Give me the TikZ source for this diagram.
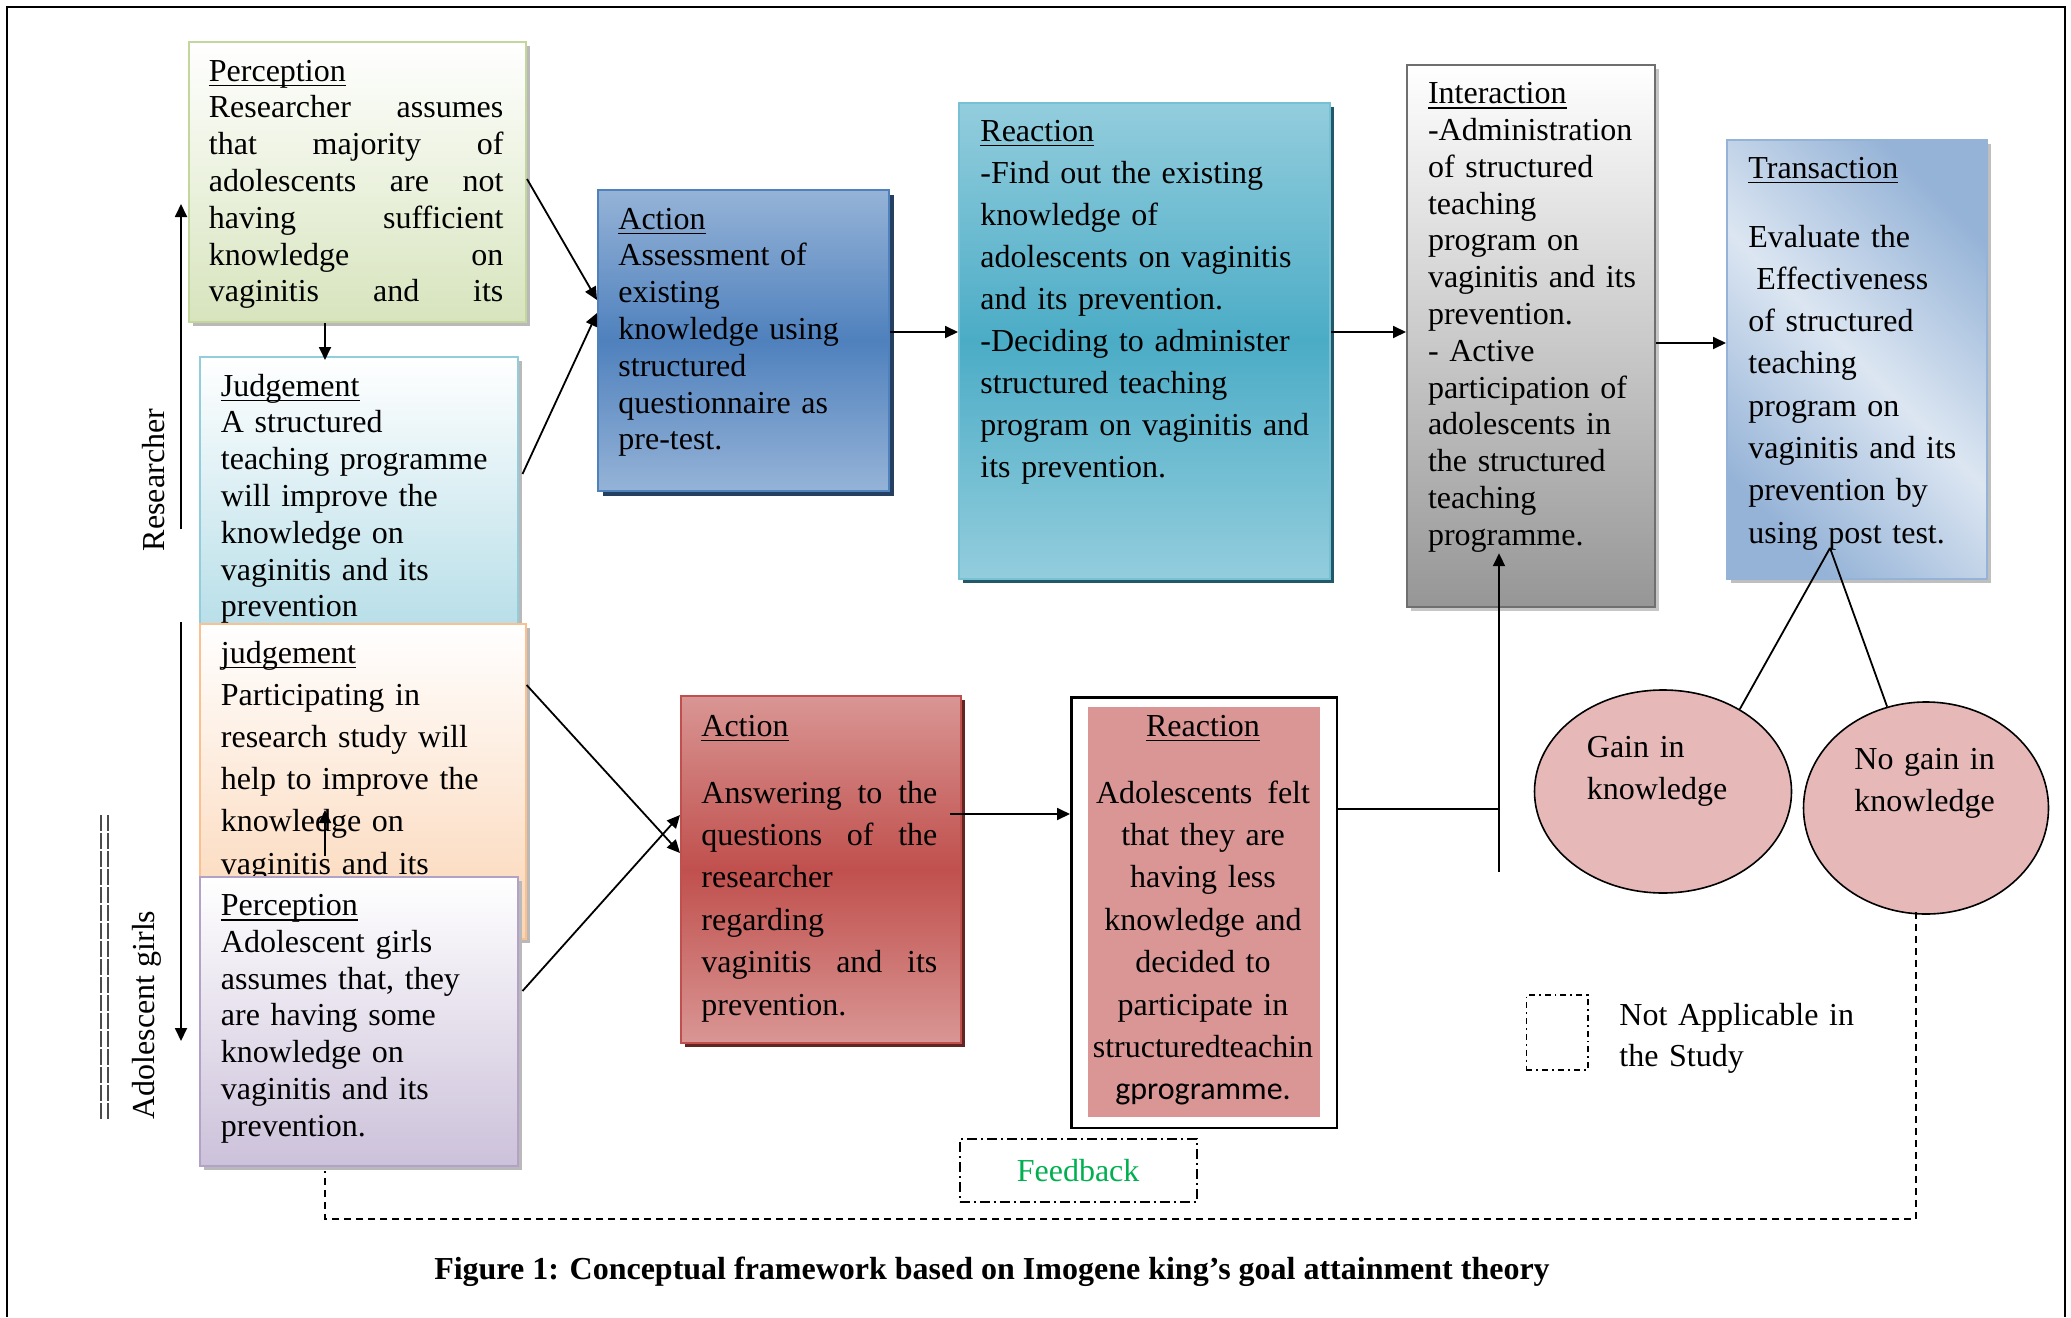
\documentclass[tikz,border=0pt]{standalone}
\usepackage{fontspec}
\setmainfont{Liberation Serif}
\newfontfamily\calib{Carlito}
\usetikzlibrary{calc,arrows.meta,shadows,shapes.geometric}
\definecolor{grnB}{HTML}{C3D69B}
\definecolor{grnF}{HTML}{D7E4BD}
\definecolor{bluB}{HTML}{92CDDC}
\definecolor{bluF}{HTML}{B7DEE8}
\definecolor{orgB}{HTML}{FAC090}
\definecolor{orgF}{HTML}{FBD5B5}
\definecolor{purB}{HTML}{B3A2C7}
\definecolor{purF}{HTML}{CCC1DA}
\definecolor{actL}{HTML}{95B3D7}
\definecolor{actM}{HTML}{4F81BD}
\definecolor{actS}{HTML}{243F60}
\definecolor{teaL}{HTML}{93CDDD}
\definecolor{teaM}{HTML}{4BACC6}
\definecolor{teaS}{HTML}{215968}
\definecolor{gryB}{HTML}{6F6F6F}
\definecolor{gryF}{HTML}{969696}
\definecolor{trnL}{HTML}{DCE6F2}
\definecolor{trnD}{HTML}{95B3D7}
\definecolor{redL}{HTML}{D99694}
\definecolor{redM}{HTML}{C0504D}
\definecolor{redS}{HTML}{632523}
\definecolor{ellF}{HTML}{E6B9B8}
\definecolor{fbG}{HTML}{00B050}
\newsavebox\ulbox
\newcommand{\uln}[1]{\sbox\ulbox{#1}\rlap{\rule[-2.6pt]{\wd\ulbox}{0.8pt}}\usebox\ulbox}
\begin{document}
\begin{tikzpicture}[x=0.5pt,y=-0.5pt,
  box/.style={rectangle, inner sep=0pt, anchor=north west, line width=1pt},
  shd/.style={drop shadow={shadow xshift=2pt, shadow yshift=-2pt, opacity=1, fill=#1}},
  txt/.style={anchor=base west, inner sep=0pt, align=left, text width=#1},
  lsA/.style={font=\fontsize{16pt}{18.4pt}\selectfont},
  lsB/.style={font=\fontsize{16pt}{21.1pt}\selectfont},
  arr/.style={line width=0.9pt, -{Triangle[length=6.5pt,width=6pt]}},
  conn/.style={line width=0.9pt},
  fbline/.style={line width=0.9pt, dash pattern=on 3.5pt off 2.5pt},
  dashdot/.style={draw=black, line width=1pt, dash pattern=on 5pt off 2pt on 1pt off 2pt},
  dl/.style={line width=0.7pt, black!70, dash pattern=on 7.8pt off 1.2pt},
  ell/.style={ellipse, draw, fill=ellF, line width=0.8pt, inner sep=0pt}
]
\useasboundingbox (0,0) rectangle (2071,1317);
% frame
\draw[line width=1pt] (7,1317) -- (7,7) -- (2065,7) -- (2065,1317);

% ---------- Researcher side ----------
\node[box, draw=grnB, top color=white, bottom color=grnF, shd=gray!55,
      minimum width=168.5pt, minimum height=140pt] (percR) at (188,41) {};
\node[txt=147.25pt, lsA] (percRt) at (208.5,81) {\uln{Perception}\\
Researcher\hfill assumes\\
that\hfill majority\hfill of\\
adolescents\hfill are\hfill not\\
having\hfill sufficient\\
knowledge\hfill on\\
vaginitis\hfill and\hfill its};

\node[box, draw=bluB, top color=white, bottom color=bluF, shd=gray!55,
      minimum width=158.75pt, minimum height=137pt] (judgR) at (199,356) {};
\node[txt=150pt, lsA] (judgRt) at (220.5,396) {\uln{Judgement}\\
A structured\\
teaching programme\\
will improve the\\
knowledge on\\
vaginitis and its\\
prevention};

% ---------- Adolescent side ----------
\node[box, draw=orgB, top color=white, bottom color=orgF, shd=gray!55,
      minimum width=162.8pt, minimum height=157.5pt] (judgA) at (199,623) {};
\node[txt=150pt, lsB] (judgAt) at (220.5,663) {\uln{judgement}\\
Participating in\\
research study will\\
help to improve the\\
knowledge on\\
vaginitis and its};

\draw[arr] ($(judgA.north west)+(126,233)$) -- ($(judgA.north west)+(126,187)$);

\node[box, draw=purB, top color=white, bottom color=purF, shd=gray!55,
      minimum width=158.75pt, minimum height=144.5pt] (percA) at (199,876) {};
\node[txt=150pt, lsA] (percAt) at (220.5,915.5) {\uln{Perception}\\
Adolescent girls\\
assumes that, they\\
are having some\\
knowledge on\\
vaginitis and its\\
prevention.};

% side labels
\node[rotate=90, inner sep=0pt, lsA] (lblR) at (154,480) {Researcher};
\node[rotate=90, inner sep=0pt, lsA] (lblA) at (147,1015) {Adolescent girls};
\coordinate (rA) at (181,529); \coordinate (rB) at (181,204);
\coordinate (aA) at (181,622); \coordinate (aB) at (181,1041);
\draw[arr] (rA) -- (rB);
\draw[arr] (aA) -- (aB);
\coordinate (d1a) at (101,815); \coordinate (d1b) at (101,1119);
\coordinate (d2a) at (108,815); \coordinate (d2b) at (108,1119);
\draw[dl] (d1a) -- (d1b);
\draw[dl] (d2a) -- (d2b);

% ---------- top row ----------
\node[box, draw=actM, top color=actL, bottom color=actL, middle color=actM,
      drop shadow={shadow xshift=2.5pt, shadow yshift=-2.5pt, opacity=1, fill=actS},
      minimum width=145.5pt, minimum height=150.5pt] (actB) at (597,189) {};
\node[txt=140pt, lsA] (actBt) at (618,229) {\uln{Action}\\
Assessment of\\
existing\\
knowledge using\\
structured\\
questionnaire as\\
pre-test.};

\node[box, draw=teaM!75!white, top color=teaL, bottom color=teaL, middle color=teaM,
      drop shadow={shadow xshift=2pt, shadow yshift=-2pt, opacity=1, fill=teaS},
      minimum width=185.5pt, minimum height=238pt] (reacB) at (958,102) {};
\node[txt=175pt, font=\fontsize{16pt}{21.05pt}\selectfont] (reacBt) at (980,141) {\uln{Reaction}\\
-Find out the existing\\
knowledge of\\
adolescents on vaginitis\\
and its prevention.\\
-Deciding to administer\\
structured teaching\\
program on vaginitis and\\
its prevention.};

\node[box, draw=gryB, line width=1.1pt, top color=white, bottom color=gryF, shd=gray!45,
      minimum width=124pt, minimum height=271pt] (inter) at (1406,64) {};
\node[txt=120pt, lsA] (intert) at (1427.6,103.6) {\uln{Interaction}\\
-Administration\\
of structured\\
teaching\\
program on\\
vaginitis and its\\
prevention.\\
- Active\\
participation of\\
adolescents in\\
the structured\\
teaching\\
programme.};

\node[box, draw=trnD, top color=trnD, bottom color=trnD, middle color=trnL, shading angle=-45,
      shd=gray!50, minimum width=130pt, minimum height=219.5pt] (trans) at (1726,139) {};
\node[txt=120pt, lsA] (transh) at (1748,178) {\uln{Transaction}};
\node[txt=120pt, font=\fontsize{16pt}{21.15pt}\selectfont] (transt) at (1748,247) {Evaluate the\\
\hspace*{4pt}Effectiveness\\
of structured\\
teaching\\
program on\\
vaginitis and its\\
prevention by\\
using post test.};

% ---------- bottom row ----------
\node[box, draw=redM, top color=redL, bottom color=redL, middle color=redM,
      drop shadow={shadow xshift=2pt, shadow yshift=-2pt, opacity=1, fill=redS},
      minimum width=140pt, minimum height=173.5pt] (actR) at (680,695) {};
\node[txt=118pt, lsA] (actRh) at (701,736) {\uln{Action}};
\node[txt=118pt, font=\fontsize{16pt}{21.2pt}\selectfont] (actRt) at (701,803) {Answering\hfill to\hfill the\\
questions\hfill of\hfill the\\
researcher\\
regarding\\
vaginitis\hfill and\hfill its\\
prevention.};

\node[box, draw=black, line width=1.3pt, fill=white,
      minimum width=132.8pt, minimum height=215.25pt] (reacR) at (1070,696) {};
\node[box, draw=none, fill=redL, minimum width=116pt, minimum height=205pt] (reacRin) at (1087,706) {};
\node[anchor=base, inner sep=0pt, lsA] (reacRh) at (1203,736) {\uln{Reaction}};
\node[anchor=base, inner sep=0pt, align=center, text width=116pt,
      font=\fontsize{16pt}{21.2pt}\selectfont] (reacRt) at (1203,803) {\hbox to 107pt{Adolescents\hfill felt}\\
that they are\\
having less\\
knowledge and\\
decided to\\
participate in\\
structuredteachin\\
{\calib gprogramme.}};

% ellipses
\node[ell, minimum width=128.5pt, minimum height=101.5pt] (gain) at (1663,791.5) {};
\node[ell, minimum width=122.5pt, minimum height=106pt] (nogain) at (1926,808) {};
\node[txt=80pt, lsB] (gaint) at (1586.5,757) {Gain in\\ knowledge};
\node[txt=80pt, font=\fontsize{16pt}{21.15pt}\selectfont] (nogaint) at (1854,769.4) {No gain in\\ knowledge};

% feedback & legend
\node[box, dashdot, minimum width=118.5pt, minimum height=31.5pt, text=fbG, lsA] (fb) at (958.6,1138) {Feedback};
\node[box, draw=black, line width=0.9pt, dash pattern=on 3pt off 2pt on 0.9pt off 2pt,
      minimum width=30.75pt, minimum height=37.5pt] (leg) at (1525.5,994) {};
\node[txt=120pt, font=\fontsize{16pt}{20.85pt}\selectfont] (legt) at (1619,1025) {Not Applicable in\\ the Study};

% caption
\node[anchor=base, inner sep=0pt, font=\fontsize{16pt}{19pt}\selectfont\bfseries] (cap) at (992,1279)
  {Figure 1: Conceptual framework based on Imogene king’s goal attainment theory};

% ---------- connectors ----------
\draw[arr] ($(percR.south west)+(137,0)$) -- ($(judgR.north west)+(126,4)$);
\draw[arr] ($(percR.north east)+(0,138)$) -- ($(actB.north west)+(0,111)$);
\draw[arr] ($(judgR.north east)+(4,118)$) -- ($(actB.north west)+(0,124)$);
\draw[arr] ($(actB.north east)+(0,143)$) -- ($(reacB.north west)+(0,230)$);
\draw[arr] ($(reacB.north east)+(0,230)$) -- ($(inter.north west)+(0,268)$);
\draw[arr] ($(inter.north east)+(0,279)$) -- ($(trans.north west)+(0,204)$);
\draw[arr] ($(judgA.north east)+(0,62)$) -- ($(actR.north west)+(0,158)$);
\draw[arr] ($(percA.north east)+(4,115)$) -- ($(actR.north west)+(0,120)$);
\draw[arr] ($(actR.north east)+(-12,119)$) -- ($(reacR.north west)+(0,118)$);
\coordinate (junc) at (1499,809);
\coordinate (vbot) at (1499,872);
\draw[conn] ($(reacR.north east)+(0,113)$) -- (junc);
\draw[arr] (vbot) -- ($(inter.south west)+(93,-55)$);
\coordinate (apex) at ($(trans.south west)+(104,-32)$);
\draw[conn] (apex) -- (gain.47);
\draw[conn] (apex) -- (nogain.111);
\draw[fbline] ($(nogain.south)+(-10,-3)$) -- ++(0,307) -| ($(percA.south west)+(126,4)$);
\end{tikzpicture}
\end{document}
